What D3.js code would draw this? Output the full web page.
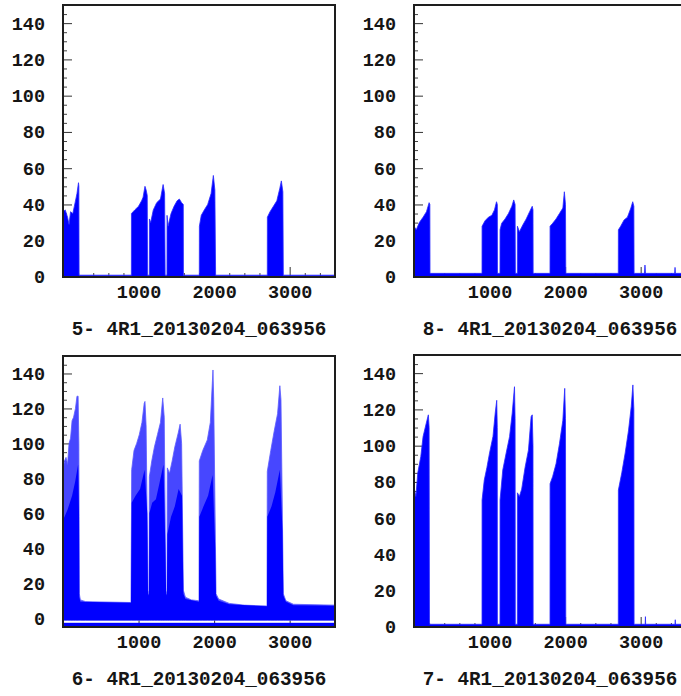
<!DOCTYPE html>
<html><head><meta charset="utf-8">
<script src="https://cdn.jsdelivr.net/npm/d3@7"></script>
<style>body{margin:0;background:#fff;overflow:hidden}svg{display:block}</style>
</head><body>
<svg id="chart" width="681" height="696"></svg>
<script>
// ---------- data ----------
const titles = ["5- 4R1_20130204_063956", "8- 4R1_20130204_063956",
                "6- 4R1_20130204_063956", "7- 4R1_20130204_063956"];
const xTicks = [1000, 2000, 3000];
const yTicks = [0, 20, 40, 60, 80, 100, 120, 140];
const xMinorStep = 200, yMinorStep = 5;

// panel "5-" : upper envelope [x, value]
const p5Top = [[0,36],[30,37],[60,33],[80,29],[100,36],[130,35],[160,41],[185,46],[205,52],[210,50],[213,1],
  [905,1],[906,35],[950,37],[1000,39],[1040,42],[1060,44],[1085,50],[1100,48],[1115,45],[1120,1],
  [1143,1],[1144,32],[1160,30],[1195,37],[1240,41],[1290,43],[1325,51],[1345,46],[1352,1],
  [1376,1],[1377,34],[1390,28],[1430,35],[1470,39],[1510,42],[1540,43],[1570,41],[1592,40],[1594,1],
  [1804,1],[1805,28],[1830,34],[1870,37],[1915,40],[1960,46],[1990,56],[2010,48],[2020,1],
  [2704,1],[2705,33],[2740,36],[2785,39],[2830,42],[2870,49],[2890,53],[2910,47],[2916,1],[3600,1]];

// panel "8-"
const p8Top = [[0,28],[30,26],[70,30],[120,33],[165,36],[200,41],[210,40],[212,2],
  [900,2],[901,28],[940,31],[985,33],[1030,34],[1065,37],[1092,41.5],[1103,40],[1105,2],
  [1138,2],[1139,26],[1160,29.6],[1205,32],[1250,35],[1295,39],[1320,42.5],[1338,40],[1342,2],
  [1368,2],[1369,28],[1395,25],[1440,28.7],[1485,32],[1530,36],[1565,39],[1575,37],[1577,2],
  [1800,2],[1801,28],[1835,29.6],[1880,32],[1925,35],[1970,38],[1990,47],[2005,40],[2009,2],
  [2704,2],[2705,26],[2735,28],[2780,31.4],[2825,33],[2870,38],[2895,41.5],[2910,39],[2913,2],
  [3050,2],[3057,6.6],[3064,2],[3450,2],[3455,5.3],[3460,2],[3600,2]];

// panel "6-" : outer (sparse peaks) envelope, dense envelope, lower edge, floor band
const p6Top = [[0,85],[20,90],[40,92],[60,88],[80,100],[100,103],[120,113],[140,115],[165,120],[185,127],[200,127],[210,100],[216,14],[230,10.5],[300,9.5],
  [900,9],[909,85],[940,96],[975,100],[1010,105],[1045,112],[1075,123],[1085,124],[1100,110],[1125,16],[1138,14],
  [1143,81],[1175,90],[1210,98],[1250,105],[1290,112],[1320,126],[1340,115],[1360,16],[1376,14],
  [1381,86],[1410,83],[1445,90],[1480,98],[1525,106],[1550,111],[1570,100],[1593,16],[1620,12],[1700,10.5],[1800,10],
  [1804,90],[1850,96],[1910,102],[1950,112],[1985,142],[1995,125],[2025,14],[2060,11],[2200,8.5],[2400,7.5],[2700,7],
  [2704,84],[2750,96],[2795,107],[2840,117],[2870,133],[2885,125],[2916,14],[2950,10],[3050,8],[3600,7.5]];
const p6Dense = [[0,56],[60,62],[120,70],[160,78],[200,88],[212,60],[216,12],[230,9.5],
  [900,8.8],[909,66],[960,70],[1020,74],[1080,85],[1115,60],[1125,14],[1138,13],
  [1143,60],[1180,66],[1230,68],[1280,78],[1330,88],[1355,40],[1365,14],[1376,13],
  [1381,48],[1430,58],[1480,64],[1530,74],[1575,70],[1593,14],[1620,11],[1800,9.5],
  [1804,58],[1860,64],[1920,70],[1980,82],[2015,40],[2025,13],[2060,10],[2200,8],[2700,6.8],
  [2704,58],[2760,64],[2810,72],[2870,85],[2905,50],[2916,13],[2950,9.5],[3050,7.5],[3600,7.2]];
const p6Low = -1.2;
const p6Floor = [-5, -2.6];

// panel "7-"
const p7Top = [[0,77],[25,72],[50,85],[90,94],[120,105],[160,112],[190,117],[200,110],[205,1.5],
  [900,1.5],[901,70],[930,81],[965,88],[1000,96],[1045,105],[1075,118],[1095,125],[1102,110],[1104,1.5],
  [1138,1.5],[1139,70],[1175,86.6],[1220,96],[1265,105],[1300,118],[1330,132.5],[1338,115],[1341,1.5],
  [1368,1.5],[1369,74],[1395,72],[1425,76],[1470,88],[1515,97.6],[1550,116],[1565,117],[1575,100],[1577,1.5],
  [1800,1.5],[1801,79],[1835,83],[1880,90],[1925,101],[1970,114],[1995,131.6],[2005,115],[2009,1.5],
  [2704,1.5],[2705,75.5],[2750,85],[2795,96],[2840,108.6],[2875,121.5],[2897,133.5],[2910,120],[2913,1.5],
  [3060,1.5],[3063,5.7],[3066,1.5],[3455,1.5],[3458,4],[3461,1.5],[3600,1.5]];

// ---------- layout ----------
const W = 272;
const panels = [
  {title: titles[0], left: 63,  top: 5,   h: 272, yDom: [0,150],  top_: p5Top},
  {title: titles[1], left: 414, top: 5,   h: 272, yDom: [0,150],  top_: p8Top},
  {title: titles[2], left: 63,  top: 356, h: 271, yDom: [-5,150], top_: p6Top, dense: p6Dense, low: p6Low, floor: p6Floor},
  {title: titles[3], left: 414, top: 355, h: 272, yDom: [0,150],  top_: p7Top}
];
const FONT = "'Liberation Mono','Courier New',monospace";
const svg = d3.select("#chart");
svg.append("rect").attr("width",681).attr("height",696).attr("fill","#fff");

panels.forEach((p, i) => {
  const g = svg.append("g").attr("transform", `translate(${p.left},${p.top})`);
  const x = d3.scaleLinear().domain([0,3600]).range([0,W]);
  const y = d3.scaleLinear().domain(p.yDom).range([p.h,0]);
  const cid = "clip"+i;
  g.append("clipPath").attr("id",cid).append("rect").attr("width",W).attr("height",p.h);

  // minor ticks
  const minorY = d3.range(p.yDom[0], p.yDom[1]+0.1, yMinorStep).filter(v => !yTicks.includes(v));
  g.append("g").call(d3.axisLeft(y).tickValues(minorY).tickSize(-4).tickFormat(""))
    .call(a => a.select(".domain").remove()).selectAll("line").attr("stroke","#444");
  const minorX = d3.range(xMinorStep, 3600, xMinorStep).filter(v => !xTicks.includes(v));
  g.append("g").attr("transform",`translate(0,${p.h})`)
    .call(d3.axisBottom(x).tickValues(minorX).tickSize(-4).tickFormat(""))
    .call(a => a.select(".domain").remove()).selectAll("line").attr("stroke","#444");

  // major ticks + labels
  const ya = g.append("g").call(d3.axisLeft(y).tickValues(yTicks).tickSize(-9).tickPadding(18));
  ya.select(".domain").remove();
  ya.selectAll("line").attr("stroke","#333");
  ya.selectAll("text").attr("font-family",FONT).attr("font-weight","bold").attr("font-size","18.5px").attr("fill","#151515");
  const xa = g.append("g").attr("transform",`translate(0,${p.h})`)
    .call(d3.axisBottom(x).tickValues(xTicks).tickSize(-10).tickPadding(8).tickFormat(d3.format("d")));
  xa.select(".domain").remove();
  xa.selectAll("line").attr("stroke","#333");
  xa.selectAll("text").attr("font-family",FONT).attr("font-weight","bold").attr("font-size","18.5px").attr("fill","#151515");

  // data
  const dg = g.append("g").attr("clip-path",`url(#${cid})`);
  const base = p.low !== undefined ? p.low : 0;
  if (p.floor) {
    dg.append("rect").attr("x",0).attr("width",W)
      .attr("y", y(p.floor[1])).attr("height", y(p.floor[0]) - y(p.floor[1])).attr("fill","#0000ff");
  }
  const area = d3.area().x(d => x(d[0])).y0(y(base)).y1(d => y(d[1]));
  dg.append("path").datum(p.top_).attr("d", area)
    .attr("fill", p.dense ? "#4747ff" : "#0000ff")
    .attr("stroke", p.dense ? "#5a5aff" : "#2a2aff").attr("stroke-width", 0.8);
  if (p.dense) {
    dg.append("path").datum(p.dense).attr("d", area).attr("fill","#0000ff");
  }

  // frame
  g.append("rect").attr("width",W).attr("height",p.h).attr("fill","none")
    .attr("stroke","#1e1e1e").attr("stroke-width",2);

  // title
  svg.append("text").attr("x", p.left + W/2).attr("y", p.top + p.h + 58)
    .attr("text-anchor","middle").attr("font-family",FONT).attr("font-weight","bold")
    .attr("font-size","19.3px").attr("fill","#151515").text(p.title);
});
</script>
</body></html>
